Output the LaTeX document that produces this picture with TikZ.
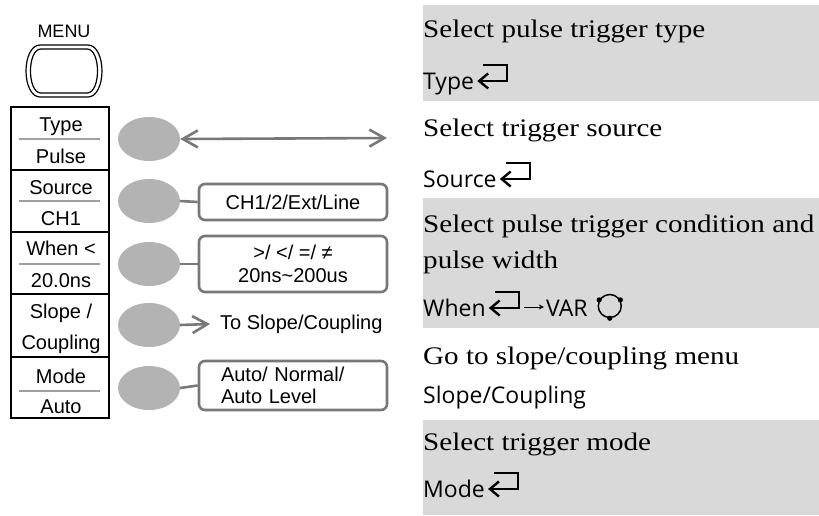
\documentclass[tikz,border=0pt]{standalone}
\usepackage{fontspec}
\setmainfont{Liberation Sans}
\newfontfamily\descfont[FakeStretch=1.15]{Liberation Serif}
\newfontfamily\uifont{Open Sans}
\usetikzlibrary{arrows.meta,calc,shapes.geometric}
\definecolor{btn}{RGB}{179,179,179}
\definecolor{conngray}{RGB}{120,120,120}
\definecolor{band}{RGB}{217,217,217}
\definecolor{sepgray}{RGB}{160,160,160}
\newcommand{\fsLab}{\fontsize{20}{22}\selectfont}
\newcommand{\fsDesc}{\descfont\fontsize{25.3}{27}\selectfont}
\newcommand{\fsUi}{\uifont\fontsize{23}{27}\selectfont}
\tikzset{
  btnshape/.style={ellipse, fill=btn, draw=none, minimum width=62pt, minimum height=44pt, inner sep=0},
  conn/.style={draw=conngray, line width=2.6pt},
  barb/.tip={Straight Barb[length=15pt,width=17pt,line width=2.6pt]},
  retbarb/.tip={Straight Barb[length=9pt,width=15pt,line width=2.4pt]},
  optbox/.style={draw=conngray, line width=2.6pt, rounded corners=6pt, minimum width=188pt, font=\fsLab, inner sep=0},
  lab/.style={anchor=base, inner sep=0, font=\fsLab},
  desc/.style={anchor=base west, inner sep=0, font=\fsDesc},
  ui/.style={anchor=base west, inner sep=0, font=\fsUi},
  retsym/.pic={
    \draw[line width=2.4pt, retbarb-] (3,-8) -- (33,-8) -- (33,-24) -- (9,-24);
  }
}
\begin{document}
\begin{tikzpicture}[x=1pt,y=-1pt]
\useasboundingbox (0,0) rectangle (819,515);
% right bands
\fill[band] (423,5) rectangle (819,101);
\fill[band] (423,198) rectangle (819,328);
\fill[band] (423,420) rectangle (819,515);
% MENU button
\node[anchor=base, inner sep=0, font=\fontsize{18}{20}\selectfont] (menu) at (64,37) {MENU};
\draw[line width=1.2pt] (40,45) -- (88,45) .. controls (97,45) and (102,58) .. (102,71) .. controls (102,84) and (97,97) .. (88,97) -- (40,97) .. controls (31,97) and (26,84) .. (26,71) .. controls (26,58) and (31,45) .. (40,45) -- cycle;
\draw[line width=1.2pt] (41,49) -- (87,49) .. controls (94,49) and (97.5,60) .. (97.5,71) .. controls (97.5,82) and (94,93) .. (87,93) -- (41,93) .. controls (34,93) and (30.5,82) .. (30.5,71) .. controls (30.5,60) and (34,49) .. (41,49) -- cycle;
% left menu box
\draw[line width=1.3pt] (11,107) rectangle (109,418);
\foreach \yy in {170,232,294,357} \draw[line width=1.3pt] (11,\yy) -- (109,\yy);
\foreach \yy in {139,201,264,391} \draw[sepgray, line width=1.5pt] (19,\yy) -- (100,\yy);
\node[lab] (l1a) at (61,131) {Type};
\node[lab] (l1b) at (61,163) {Pulse};
\node[lab] (l2a) at (61,194) {Source};
\node[lab] (l2b) at (61,225) {CH1};
\node[lab] (l3a) at (61,255) {When <};
\node[lab] (l3b) at (61,287) {20.0ns};
\node[lab] (l4a) at (61,318) {Slope /};
\node[lab] (l4b) at (61,349) {Coupling};
\node[lab] (l5a) at (61,383) {Mode};
\node[lab] (l5b) at (61,413) {Auto};
% buttons
\node[btnshape] (b1) at (149,139) {};
\node[btnshape] (b2) at (149,201) {};
\node[btnshape] (b3) at (149,264) {};
\node[btnshape] (b4) at (149,325) {};
\node[btnshape] (b5) at (149,388) {};
% option boxes
\node[optbox, minimum height=36pt] (x2) at (293,202) {CH1/2/Ext/Line\hspace{8pt}};
\node[optbox, minimum height=56pt, align=center] (x3) at (293,264) {>/ </ =/ \char"2260\\[1pt]20ns\textasciitilde200us};
\node[optbox, minimum height=49pt, text width=144pt, inner xsep=22pt, align=left] (x5) at (293,385.5) {Auto/ Normal/\\Auto Level};
\coordinate (r1) at (387,138);
\node[anchor=west, inner xsep=10pt, inner ysep=0, font=\fsLab] (tsl) at (210,324) {To Slope/Coupling};
% connectors
\draw[conn, barb-barb] (b1.east) -- (r1);
\draw[conn] (b2.east) -- (x2.west);
\draw[conn] (b3.east) -- (x3.west);
\draw[conn, -barb] (b4.east) -- (tsl.west);
\draw[conn] (b5.east) -- (x5.west);
% right descriptions
\node[desc] (d1) at (423,37) {Select pulse trigger type};
\node[ui] (t1) at (423,89) {Type};
\path (t1.base east) pic {retsym};
\node[desc] (d2) at (423,136) {Select trigger source};
\node[ui] (t2) at (423,187) {Source};
\path (t2.base east) pic {retsym};
\node[desc] (d3) at (423,232) {Select pulse trigger condition and};
\node[desc] (d3b) at (423,268) {pulse width};
\node[ui] (t3) at (423,316) {When};
\path (t3.base east) pic {retsym};
\coordinate (va) at ($(t3.base east)+(38,-9)$);
\coordinate (vb) at ($(t3.base east)+(58,-9)$);
\draw[line width=1pt, -{Stealth[length=5pt,width=5pt]}] (va) -- (vb);
\node[ui] (tvar) at ($(t3.base east)+(60,0)$) {VAR};
\node[circle, draw, line width=1.5pt, minimum size=23pt, inner sep=0] (knob) at ($(tvar.base east)+(22,-10)$) {};
\foreach \ang in {150,30,270} \fill (knob.\ang) circle (2.6pt);
\node[desc] (d4) at (423,364) {Go to slope/coupling menu};
\node[ui] (t4) at (423,403) {Slope/Coupling};
\node[desc] (d5) at (423,450) {Select trigger mode};
\node[ui] (t5) at (423,497) {Mode};
\path (t5.base east) pic {retsym};
\end{tikzpicture}
\end{document}
